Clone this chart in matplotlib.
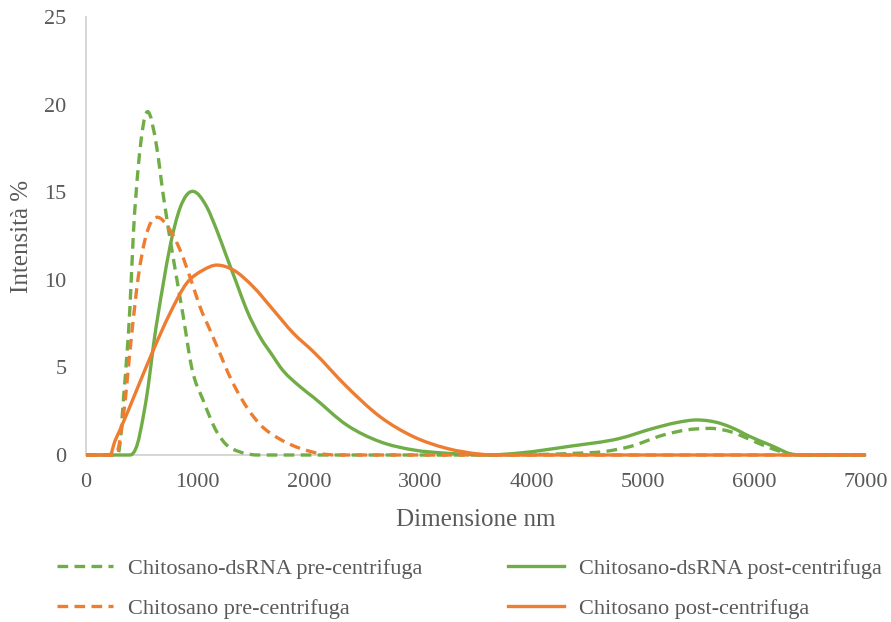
import numpy as np
import matplotlib
matplotlib.use("Agg")
import matplotlib.pyplot as plt
from matplotlib.path import Path
from matplotlib.patches import PathPatch
from matplotlib.lines import Line2D

# Size distributions (nm vs intensity %)
dsrna_pre_x = [0, 250, 290, 340, 395, 425, 470, 553, 634, 694, 784, 873, 948, 1053, 1173, 1262, 1380, 1550,
               3500, 4000, 4403, 4642, 4882, 5181, 5390, 5600, 5800, 5960, 6140, 6320, 6450, 7000]
dsrna_pre_y = [0, 0, 0.1, 3.5, 8.5, 12.6, 16.5, 19.6, 17.6, 14.8, 11.2, 7.9, 5.0, 3.1, 1.33, 0.57, 0.18, 0,
               0, 0.02, 0.1, 0.19, 0.48, 1.14, 1.43, 1.52, 1.3, 0.88, 0.4, 0.06, 0, 0]

dsrna_post_x = [0, 395, 460, 514, 560, 604, 694, 754, 844, 957, 1083, 1173, 1262, 1352, 1442, 1561, 1681,
                1741, 1921, 2040, 2340, 2638, 2937, 3235, 3500, 3600, 3900, 4343, 4792, 5091, 5300, 5480,
                5690, 5800, 5960, 6140, 6380, 7000]
dsrna_post_y = [0, 0, 0.6, 2.2, 4.0, 6.2, 9.8, 11.9, 14.1, 15.05, 14.17, 12.84, 11.32, 9.8, 8.28, 6.75, 5.61,
                5.04, 3.9, 3.3, 1.71, 0.76, 0.29, 0.1, 0.02, 0, 0.12, 0.5, 0.95, 1.52, 1.85, 2.0,
                1.81, 1.55, 1.05, 0.57, 0, 0]

chit_pre_x = [0, 240, 275, 335, 410, 470, 530, 640, 754, 844, 963, 1023, 1113, 1202, 1277, 1352, 1561, 1741,
              1921, 2100, 2250, 7000]
chit_pre_y = [0, 0, 0.1, 2.2, 6.9, 10.2, 12.3, 13.57, 12.84, 11.7, 9.6, 8.46, 7.13, 5.8, 4.66, 3.7, 1.75, 0.9,
              0.38, 0.08, 0, 0]

chit_post_x = [0, 215, 260, 305, 455, 604, 754, 903, 1053, 1173, 1322, 1501, 1681, 1861, 2040, 2340, 2638,
               2937, 3237, 3536, 3650, 7000]
chit_post_y = [0, 0, 0.8, 1.43, 3.71, 5.99, 8.09, 9.8, 10.56, 10.84, 10.56, 9.6, 8.28, 6.95, 5.9, 3.9, 2.19,
               1.05, 0.38, 0.05, 0, 0]

labels = ["Chitosano-dsRNA pre-centrifuga", "Chitosano-dsRNA post-centrifuga",
          "Chitosano pre-centrifuga", "Chitosano post-centrifuga"]

x_ticks = [0, 1000, 2000, 3000, 4000, 5000, 6000, 7000]
y_ticks = [0, 5, 10, 15, 20, 25]

GREEN = "#70AD47"
ORANGE = "#ED7D31"
TEXT = "#595959"
DASH = (0, (3.2, 1.9))
LW = 2.4

plt.rcParams["font.family"] = ["Liberation Serif", "DejaVu Serif"]


def smooth_path(xs, ys):
    """Smoothed line through the points as cubic Bezier segments
    (three-point tangents, flattened at extrema to avoid overshoot)."""
    x = np.asarray(xs, float)
    y = np.asarray(ys, float)
    h = np.diff(x)
    d = np.diff(y) / h
    n = len(x)
    m = np.zeros(n)
    for k in range(1, n - 1):
        if d[k - 1] * d[k] > 0:
            mk = (d[k - 1] * h[k] + d[k] * h[k - 1]) / (h[k - 1] + h[k])
            lim = 3 * min(abs(d[k - 1]), abs(d[k]))
            m[k] = np.sign(mk) * min(abs(mk), lim)
    m[0] = d[0]
    m[-1] = d[-1]
    verts = [(x[0], y[0])]
    codes = [Path.MOVETO]
    for k in range(n - 1):
        t = h[k] / 3.0
        verts += [(x[k] + t, y[k] + m[k] * t),
                  (x[k + 1] - t, y[k + 1] - m[k + 1] * t),
                  (x[k + 1], y[k + 1])]
        codes += [Path.CURVE4] * 3
    return Path(np.array(verts), codes)


fig = plt.figure(figsize=(8.91, 6.22), dpi=100)
ax = fig.add_axes([86 / 891, 1 - 455 / 622, 780 / 891, 438 / 622])

series = [
    (dsrna_pre_x, dsrna_pre_y, GREEN, DASH),
    (dsrna_post_x, dsrna_post_y, GREEN, "-"),
    (chit_pre_x, chit_pre_y, ORANGE, DASH),
    (chit_post_x, chit_post_y, ORANGE, "-"),
]
handles = []
for (xs, ys, col, ls), lab in zip(series, labels):
    patch = PathPatch(smooth_path(xs, ys), facecolor="none", edgecolor=col, lw=LW,
                      linestyle=ls, capstyle="butt", joinstyle="round", clip_on=False)
    ax.add_patch(patch)
    handles.append(Line2D([], [], color=col, lw=LW, linestyle=ls, label=lab))

ax.set_xlim(0, 7000)
ax.set_ylim(0, 25)
ax.set_xticks(x_ticks)
ax.set_yticks(y_ticks)
ax.tick_params(length=0, labelsize=16, labelcolor=TEXT)
ax.tick_params(axis="y", pad=14)
ax.tick_params(axis="x", pad=13)
for s in ["top", "right"]:
    ax.spines[s].set_visible(False)
for s in ["left", "bottom"]:
    ax.spines[s].set_color("#D0D0D0")
    ax.spines[s].set_linewidth(1.2)
    ax.spines[s].set_zorder(0)

ax.set_xlabel("Dimensione nm", fontsize=18, color=TEXT, labelpad=12)
ax.set_ylabel("Intensità %", fontsize=18, color=TEXT)
ax.yaxis.set_label_coords(-0.068, 0.5)

# two columns, filled column by column: dsRNA entries on the first row
legend_order = [handles[0], handles[2], handles[1], handles[3]]
fig.legend(handles=legend_order, ncol=2, loc="upper left", bbox_to_anchor=(46 / 891, 1 - 547 / 622),
           frameon=False, fontsize=16, handlelength=2.5, handletextpad=0.7,
           columnspacing=3.85, labelspacing=0.9, borderpad=0, labelcolor=TEXT)

fig.savefig("out.png", dpi=100)
